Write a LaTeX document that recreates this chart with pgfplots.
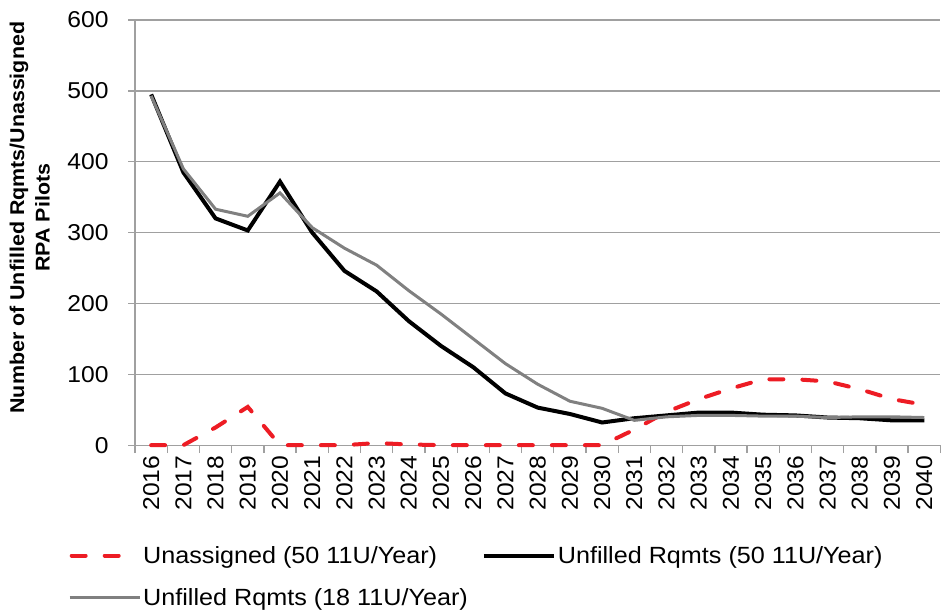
\documentclass[border=0pt]{standalone}
\usepackage{pgfplots}
\pgfplotsset{compat=1.18}
\usepackage{fontspec}
\setmainfont[FakeStretch=1.075]{Liberation Sans}
\definecolor{axgray}{RGB}{160,160,160}
\definecolor{redd}{RGB}{237,28,36}
\definecolor{linegray}{RGB}{128,128,128}
\pgfplotsset{redleg/.style={legend image code/.code={\draw[##1] (2bp,0bp) -- (52bp,0bp);}}}
\begin{document}
\begin{tikzpicture}
\begin{axis}[
  scale only axis,
  width=805bp, height=425bp,
  xmin=-0.5, xmax=24.5,
  ymin=0, ymax=600,
  clip=false,
  ytick={0,100,...,600},
  xtick={0,...,24},
  xticklabels={2016,2017,2018,2019,2020,2021,2022,2023,2024,2025,2026,2027,2028,2029,2030,2031,2032,2033,2034,2035,2036,2037,2038,2039,2040},
  minor xtick={-0.5,0.5,...,24.5},
  major x tick style={draw=none},
  minor tick length=8bp,
  major tick length=7bp,
  tick align=outside,
  axis x line*=bottom,
  axis y line*=left,
  axis line style={axgray, line width=1.3bp},
  tick style={axgray, line width=1.3bp},
  ymajorgrids,
  grid style={axgray, line width=1.3bp},
  x tick label style={rotate=90, anchor=east, font=\fontsize{23}{26}\selectfont},
  y tick label style={font=\fontsize{23}{26}\selectfont, xshift=-16bp},
  /pgf/number format/assume math mode=true,
  ylabel={Number of Unfilled Rqmts/Unassigned\\RPA Pilots},
  ylabel style={align=center, font=\bfseries\fontsize{20}{25.5}\selectfont,
    at={(axis description cs:-0.1015,0.535)}, anchor=south},
  legend style={at={(axis description cs:-0.087,-0.228)}, anchor=north west, draw=none, fill=none,
    font=\fontsize{23.5}{26}\selectfont, legend cell align=left,
    /tikz/every even column/.append style={column sep=12bp},
    row sep=20bp},
  legend columns=2,
  legend image code/.code={\draw[#1] (0bp,0bp) -- (70bp,0bp);},
]
\addplot[redd, line width=4bp, line cap=round, dash pattern=on 14bp off 19bp, redleg] coordinates {
(0,0) (1,0) (2,25) (3,54) (4,0) (5,0) (6,0) (7,3) (8,1) (9,0) (10,0) (11,0) (12,0) (13,0) (14,0)
(15,22) (16,47) (17,65) (18,80) (19,93) (20,93) (21,90) (22,79) (23,65) (24,57)};
\addlegendentry{Unassigned (50 11U/Year)}
\addplot[black, line width=4bp] coordinates {
(0,495) (1,385) (2,320) (3,303) (4,372) (5,300) (6,246) (7,217) (8,175) (9,140) (10,110) (11,73) (12,53) (13,44) (14,32)
(15,38) (16,42) (17,46) (18,46) (19,43) (20,42) (21,39) (22,38) (23,35) (24,35)};
\addlegendentry{Unfilled Rqmts (50 11U/Year)}
\addplot[linegray, line width=3bp] coordinates {
(0,493) (1,390) (2,333) (3,323) (4,356) (5,307) (6,278) (7,254) (8,218) (9,185) (10,150) (11,115) (12,86) (13,62) (14,52)
(15,35) (16,40) (17,42) (18,42) (19,41) (20,41) (21,39) (22,40) (23,40) (24,39)};
\addlegendentry{Unfilled Rqmts (18 11U/Year)}
\end{axis}
\path ([xshift=-135bp,yshift=20bp]current axis.north west);
\end{tikzpicture}
\end{document}
